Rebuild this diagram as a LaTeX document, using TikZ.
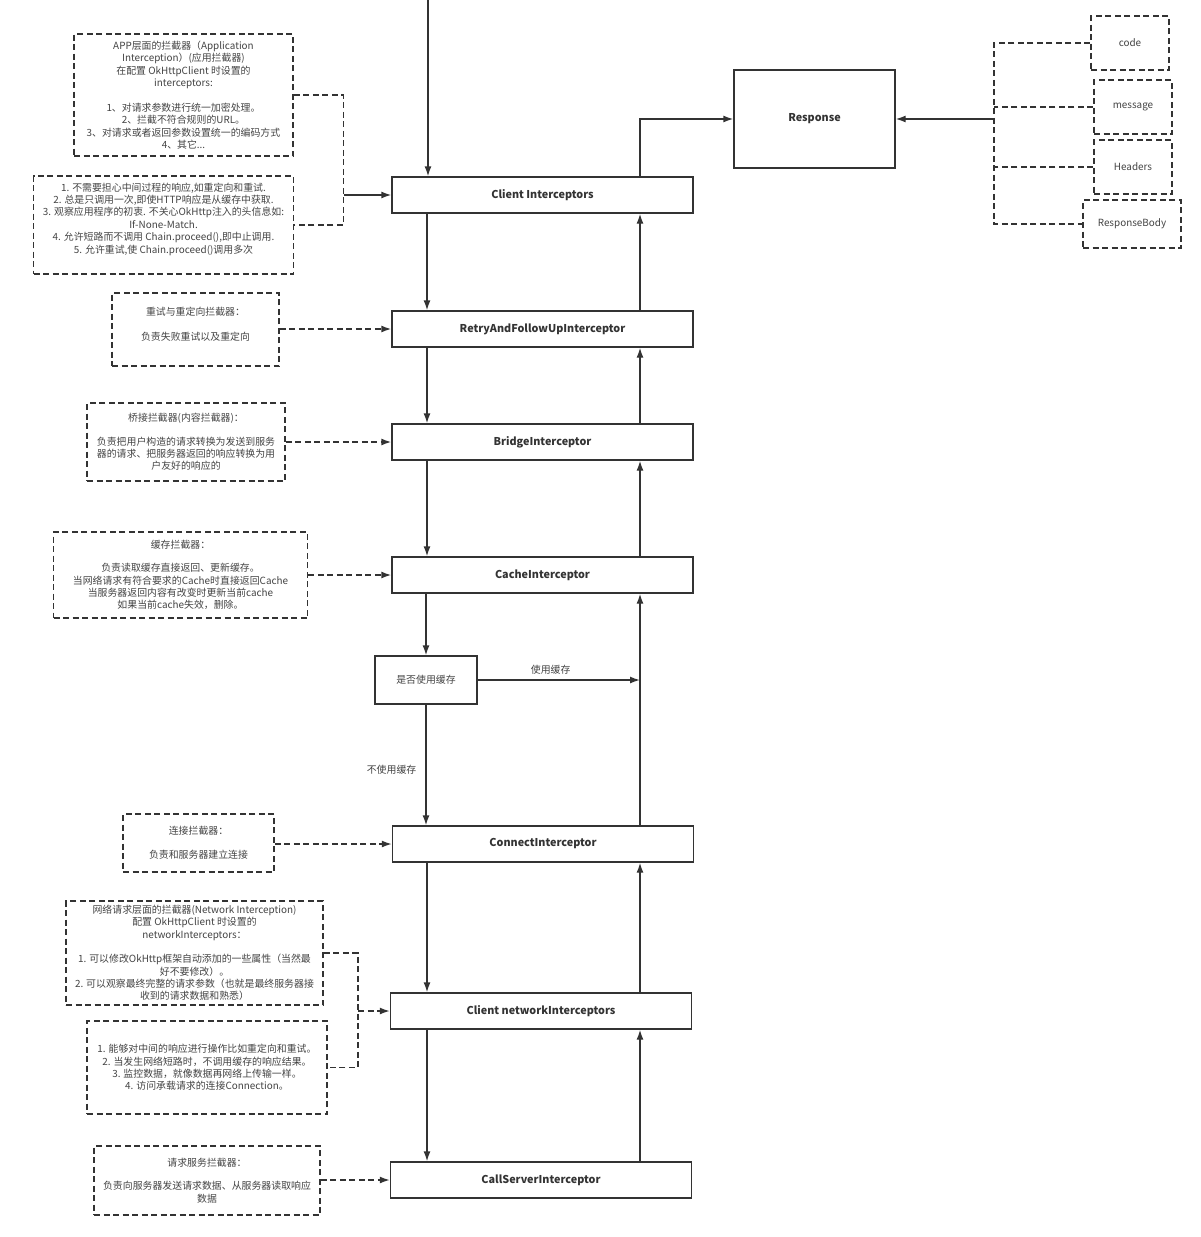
\documentclass[tikz,border=0pt]{standalone}
\usepackage{fontspec}
\setmainfont{Noto Sans CJK SC}
\usetikzlibrary{arrows.meta,calc}
\definecolor{ln}{HTML}{333333}
\definecolor{tx}{HTML}{444444}
\begin{document}
\begin{tikzpicture}[x=1pt,y=-1pt,
  every node/.style={text=tx, font=\fontsize{9.9}{12.4}\selectfont},
  mainbox/.style={draw=ln, line width=1.4pt, minimum width=301pt, minimum height=36pt, inner sep=0pt, font=\fontsize{10.8}{12}\selectfont\bfseries, text=ln},
  plainbox/.style={draw=ln, line width=1.4pt, inner sep=0pt},
  note/.style={draw=ln, line width=1.5pt, dash pattern=on 6pt off 3.5pt, inner sep=0pt, align=center},
  notetext/.style={inner sep=0pt, align=center},
  arr/.style={draw=ln, line width=1.4pt, -{Latex[length=10pt,width=7pt]}},
  darr/.style={arr, line width=1.5pt, dash pattern=on 6pt off 3.5pt},
  dl/.style={draw=ln, line width=1.5pt, dash pattern=on 6pt off 3.5pt},
  lbl/.style={inner sep=0pt},
]
\fill[white] (0,0) rectangle (1200,1237);
\useasboundingbox (0,0) rectangle (1200,1237);

% main chain
\node[mainbox] (ci) at (542.5,195) {Client Interceptors};
\node[mainbox] (rt) at (542.5,329) {RetryAndFollowUpInterceptor};
\node[mainbox] (br) at (542.5,442) {BridgeInterceptor};
\node[mainbox] (ca) at (542.5,575) {CacheInterceptor};
\node[plainbox, minimum width=102pt, minimum height=48pt] (q) at (426,680) {是否使用缓存};
\node[mainbox] (co) at (543,844) {ConnectInterceptor};
\node[mainbox] (nw) at (541,1011) {Client networkInterceptors};
\node[mainbox] (cs) at (541,1180) {CallServerInterceptor};
\node[mainbox, minimum width=161pt, minimum height=98pt] (resp) at (814.5,119) {Response};

% response parts
\node[note, minimum width=78pt, minimum height=54pt] (code) at (1130,43) {code};
\node[note, minimum width=78pt, minimum height=54pt] (msg) at (1133,107) {message};
\node[note, minimum width=78pt, minimum height=54pt] (hd) at (1133,167) {Headers};
\node[note, minimum width=98pt, minimum height=48pt] (rb) at (1132,224) {ResponseBody};

% notes
\node[note, minimum width=219pt, minimum height=122pt] (n1) at (183.5,95) {APP层面的拦截器（Application\\Interception）(应用拦截器)\\在配置 OkHttpClient 时设置的\\interceptors:\\[12.4pt]1、对请求参数进行统一加密处理。\\2、拦截不符合规则的URL。\\3、对请求或者返回参数设置统一的编码方式\\4、其它...};
\node[note, minimum width=260pt, minimum height=98pt] (n2) at (163.5,225) {};
\node[notetext] at (163.5,219) {1. 不需要担心中间过程的响应,如重定向和重试.\\2. 总是只调用一次,即使HTTP响应是从缓存中获取.\\3. 观察应用程序的初衷. 不关心OkHttp注入的头信息如:\\If-None-Match.\\4. 允许短路而不调用 Chain.proceed(),即中止调用.\\5. 允许重试,使 Chain.proceed()调用多次};
\node[note, minimum width=167pt, minimum height=73pt] (n3) at (195.5,329.5) {};
\node[notetext] at (195.5,324) {重试与重定向拦截器：\\[13pt]负责失败重试以及重定向};
\node[note, minimum width=198pt, minimum height=78pt] (n4) at (186,442) {桥接拦截器(内容拦截器)：\\[11pt]负责把用户构造的请求转换为发送到服务\\器的请求、把服务器返回的响应转换为用\\户友好的响应的};
\node[note, minimum width=254pt, minimum height=86pt] (n5) at (180.5,575) {缓存拦截器：\\[11pt]负责读取缓存直接返回、更新缓存。\\当网络请求有符合要求的Cache时直接返回Cache\\当服务器返回内容有改变时更新当前cache\\如果当前cache失效，删除。};
\node[note, minimum width=151pt, minimum height=58pt] (n6) at (198.5,843) {连接拦截器：\\[12pt]负责和服务器建立连接};
\node[note, minimum width=257pt, minimum height=104pt] (n7) at (194.5,953) {网络请求层面的拦截器(Network Interception)\\配置 OkHttpClient 时设置的\\networkInterceptors：\\[12pt]1. 可以修改OkHttp框架自动添加的一些属性（当然最\\好不要修改）。\\2. 可以观察最终完整的请求参数（也就是最终服务器接\\收到的请求数据和熟悉）};
\node[note, minimum width=240pt, minimum height=93pt] (n8) at (207,1067.5) {1. 能够对中间的响应进行操作比如重定向和重试。\\2. 当发生网络短路时，不调用缓存的响应结果。\\3. 监控数据，就像数据再网络上传输一样。\\4. 访问承载请求的连接Connection。};
\node[note, minimum width=226pt, minimum height=69pt] (n9) at (207,1180.5) {请求服务拦截器：\\[11pt]负责向服务器发送请求数据、从服务器读取响应\\数据};

% helper coordinates
\coordinate (top) at (428,0);
\coordinate (L) at (427,0);
\coordinate (R) at (640,0);
\coordinate (B) at (994,0);
\coordinate (K1) at (343.5,0);
\coordinate (K2) at (358,0);
\coordinate (J) at (640,680);

% down flow
\draw[arr] (top) -- (ci.north -| top);
\draw[arr] (ci.south -| L) -- (rt.north -| L);
\draw[arr] (rt.south -| L) -- (br.north -| L);
\draw[arr] (br.south -| L) -- (ca.north -| L);
\draw[arr] (ca.south -| q) -- (q.north);
\draw[arr] (q.south) -- (co.north -| q) node[lbl, pos=0.54, left=9pt] {不使用缓存};
\draw[arr] (co.south -| L) -- (nw.north -| L);
\draw[arr] (nw.south -| L) -- (cs.north -| L);

% up flow
\draw[arr] (cs.north -| R) -- (nw.south -| R);
\draw[arr] (nw.north -| R) -- (co.south -| R);
\draw[arr] (co.north -| R) -- (ca.south -| R);
\draw[arr] (q.east) -- (J) node[lbl, pos=0.45, above=5pt] {使用缓存};
\draw[arr] (ca.north -| R) -- (br.south -| R);
\draw[arr] (br.north -| R) -- (rt.south -| R);
\draw[arr] (rt.north -| R) -- (ci.south -| R);
\draw[arr] (ci.north -| R) |- (resp.west);

% response parts bracket
\draw[dl] (code.west) -- (code.west -| B) -- (rb.west -| B) -- (rb.west);
\draw[dl] (msg.west) -- (msg.west -| B);
\draw[dl] (hd.west) -- (hd.west -| B);
\draw[arr] (resp.east -| B) -- (resp.east);

% note connectors
\draw[dl] (n1.east) -- (n1.east -| K1) -- (n2.east -| K1) -- (n2.east);
\draw[arr] (ci.west -| K1) -- (ci.west);
\draw[darr] (rt.west -| n3.east) -- (rt.west);
\draw[darr] (br.west -| n4.east) -- (br.west);
\draw[darr] (ca.west -| n5.east) -- (ca.west);
\draw[darr] (co.west -| n6.east) -- (co.west);
\draw[dl] (n7.east) -- (n7.east -| K2) -- (n8.east -| K2) -- (n8.east);
\draw[darr] (nw.west -| K2) -- (nw.west);
\draw[darr] (cs.west -| n9.east) -- (cs.west);
\end{tikzpicture}
\end{document}
